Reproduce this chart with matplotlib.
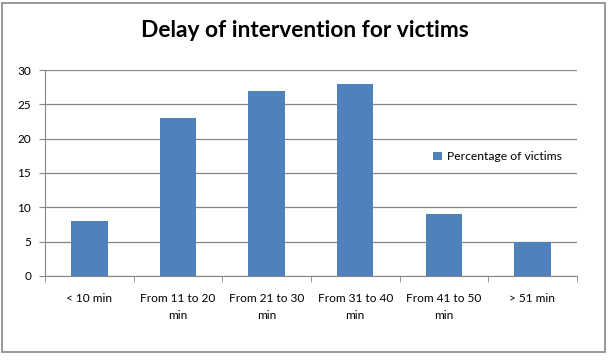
import numpy as np
import matplotlib
matplotlib.use("Agg")
import matplotlib.pyplot as plt
from matplotlib.patches import Rectangle

categories = ["< 10 min", "From 11 to 20\nmin", "From 21 to 30\nmin",
              "From 31 to 40\nmin", "From 41 to 50\nmin", "> 51 min"]
values = [8, 23, 27, 28, 9, 5]
series_name = "Percentage of victims"
title = "Delay of intervention for victims"

BAR_COLOR = "#4F81BD"
GRAY = "#868686"

plt.rcParams["font.family"] = ["Lato", "DejaVu Sans"]

fig = plt.figure(figsize=(6.09, 3.63), dpi=100)
# outer chart border
fig.patches.append(Rectangle((0.004, 0.03), 0.99, 0.963, transform=fig.transFigure,
                             fill=False, edgecolor=GRAY, linewidth=1.2))

ax = fig.add_axes([0.074, 0.240, 0.873, 0.567])
x = np.arange(len(values))
ax.bar(x, values, width=0.41, color=BAR_COLOR, label=series_name, zorder=3)

ax.set_xlim(-0.5, len(values) - 0.5)
ax.set_ylim(0, 30)
ax.set_yticks(range(0, 31, 5))
ax.yaxis.grid(True, color=GRAY, linewidth=0.9, zorder=0)
ax.tick_params(axis="y", length=4, color=GRAY, labelsize=8.5, pad=6)

ax.set_xticks(x)
ax.set_xticklabels(categories, fontsize=8.6, linespacing=1.75)
ax.tick_params(axis="x", which="major", length=0, pad=12)
ax.set_xticks(np.arange(-0.5, len(values)), minor=True)
ax.tick_params(axis="x", which="minor", length=4, color=GRAY)

for side in ["top", "right"]:
    ax.spines[side].set_visible(False)
for side in ["left", "bottom"]:
    ax.spines[side].set_color(GRAY)

ax.legend(loc="center left", bbox_to_anchor=(0.71, 0.58), frameon=False,
          fontsize=8.7, handlelength=0.7, handleheight=0.7, handletextpad=0.4)

fig.text(0.5, 0.915, title, ha="center", va="center", fontsize=16.4, fontweight="bold")

fig.savefig("out.png", dpi=100)
